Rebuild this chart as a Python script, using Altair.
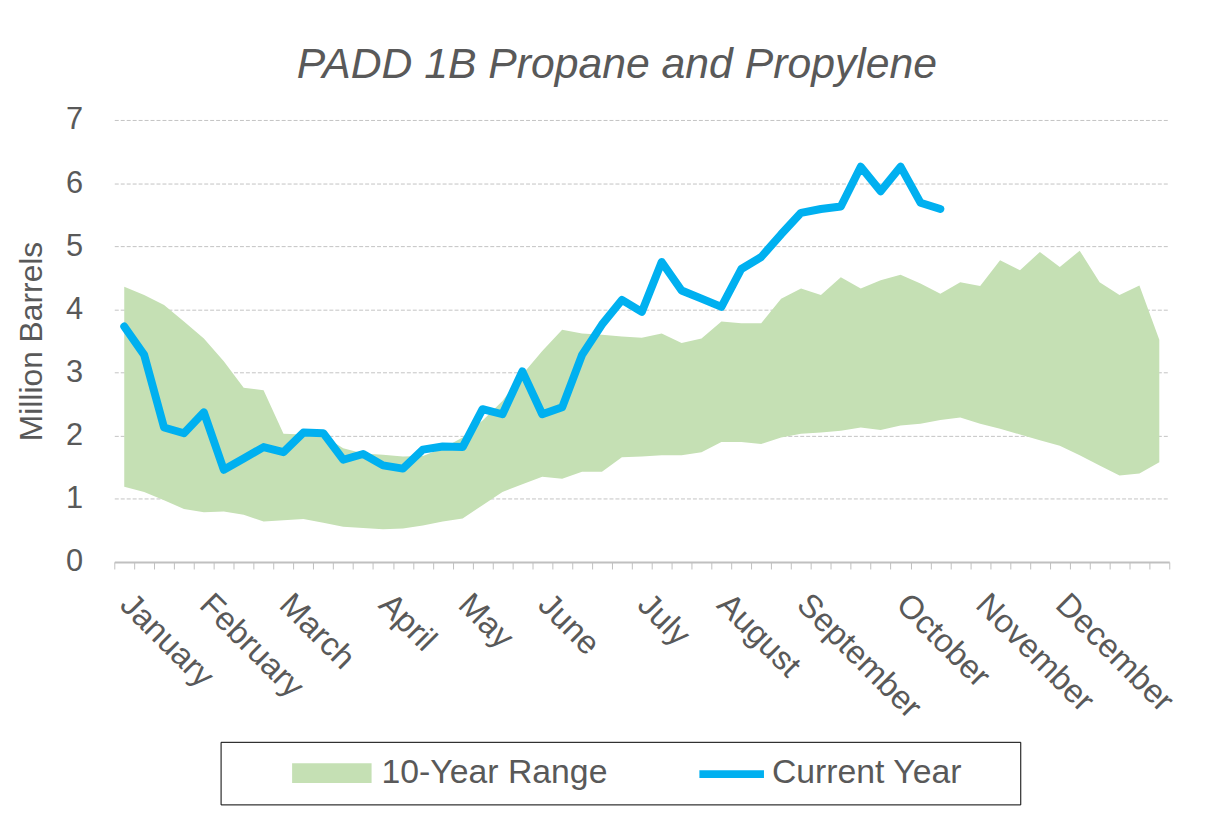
import altair as alt
import pandas as pd

# ---- data ----
weeks = list(range(53))

range_high = [4.36, 4.23, 4.07, 3.81, 3.54, 3.18, 2.76, 2.72, 2.03, 2.02,
              2.00, 1.80, 1.72, 1.70, 1.67, 1.68, 1.80, 1.97, 2.24, 2.55,
              2.97, 3.34, 3.68, 3.62, 3.60, 3.57, 3.55, 3.62, 3.47, 3.54,
              3.81, 3.78, 3.78, 4.17, 4.33, 4.23, 4.51, 4.33, 4.46, 4.55,
              4.41, 4.25, 4.43, 4.37, 4.78, 4.62, 4.91, 4.67, 4.93, 4.43,
              4.23, 4.38, 3.52]

range_low = [1.19, 1.11, 0.98, 0.84, 0.79, 0.80, 0.75, 0.64, 0.66, 0.68,
             0.62, 0.56, 0.54, 0.52, 0.53, 0.58, 0.64, 0.69, 0.90, 1.11,
             1.23, 1.35, 1.32, 1.43, 1.43, 1.66, 1.67, 1.69, 1.69, 1.74,
             1.90, 1.90, 1.87, 1.97, 2.03, 2.05, 2.08, 2.13, 2.09, 2.16,
             2.19, 2.25, 2.29, 2.19, 2.11, 2.02, 1.93, 1.84, 1.69, 1.53,
             1.37, 1.40, 1.58]

current_year = [3.73, 3.28, 2.13, 2.04, 2.37, 1.46, 1.64, 1.82, 1.74, 2.05,
                2.04, 1.62, 1.71, 1.53, 1.48, 1.78, 1.83, 1.82, 2.42, 2.34,
                3.02, 2.34, 2.45, 3.28, 3.76, 4.15, 3.96, 4.75, 4.30, 4.17,
                4.04, 4.64, 4.83, 5.19, 5.53, 5.59, 5.63, 6.26, 5.87, 6.26,
                5.69, 5.59]

month_names = ["January", "February", "March", "April", "May", "June",
               "July", "August", "September", "October", "November", "December"]
month_start_weeks = [0, 4, 8, 13, 17, 21, 26, 30, 34, 39, 43, 47]

y_ticks = [0, 1, 2, 3, 4, 5, 6, 7]

series_names = ["10-Year Range", "Current Year"]

band_df = pd.DataFrame({"week": weeks, "low": range_low, "high": range_high,
                        "series": series_names[0]})
line_df = pd.DataFrame({"week": weeks[:len(current_year)], "value": current_year,
                        "series": series_names[1]})

FONT = "Liberation Sans"
GRAY = "#595959"
GREEN = "#c5e0b4"
BLUE = "#00b0f0"

x_scale = alt.Scale(domain=[-0.5, 52.5], nice=False, zero=False)
y_scale = alt.Scale(domain=[0, 7], nice=False)

tick_axis = alt.Axis(values=[w - 0.5 for w in weeks + [53]], labels=False,
                     ticks=True, tickSize=7, tickColor="#c0c0c0", tickWidth=1,
                     domainColor="#c0c0c0", domainWidth=2, grid=False,
                     title=None, orient="bottom")

label_expr = ("[" + ",".join("'%s'" % m for m in month_names) + "][indexof(["
              + ",".join(str(w) for w in month_start_weeks) + "], datum.value)]")

label_axis = alt.Axis(values=month_start_weeks, labelExpr=label_expr,
                      labelAngle=45, labelAlign="left", labelBaseline="top",
                      labelFontSize=33, labelColor=GRAY, labelFont=FONT,
                      labelOverlap=False, labelFlush=False, labelBound=False,
                      labelOffset=12, ticks=False, tickSize=0, domain=False,
                      grid=False, title=None, orient="bottom", labelPadding=26)

y_axis = alt.Axis(values=y_ticks, grid=True, gridDash=[4, 2], gridColor="#c4c4c4",
                  gridWidth=1, domain=False, ticks=False, labelFontSize=31,
                  labelColor=GRAY, labelFont=FONT, labelPadding=32,
                  title="Million Barrels", titleFontSize=32, titleFont=FONT,
                  titleFontWeight="normal", titleColor=GRAY, titlePadding=17)

# legend with the box and both labels (second symbol left blank)
legend_box = alt.Legend(
    orient="none", legendX=107, legendY=626, direction="horizontal",
    title=" ", titleOrient="right", titleFontSize=10, titlePadding=44,
    symbolType="M-1,-0.25H1V0.25H-1Z", symbolSize=6400, symbolStrokeWidth=0,
    symbolOpacity=1, symbolOffset=58, labelOffset=10, clipHeight=35,
    labelFontSize=34, labelColor=GRAY, labelFont=FONT, labelLimit=400,
    columnPadding=17, padding=14, strokeColor="black",
)
# legend that only draws the blue line swatch over the blank second symbol
legend_line = alt.Legend(
    orient="none", legendX=571, legendY=627, direction="horizontal", title=None,
    symbolType="stroke", symbolSize=4225, symbolStrokeWidth=8, symbolOpacity=1,
    clipHeight=35, padding=14, labelOpacity=0, labelFontSize=2,
)

area = alt.Chart(band_df).mark_area(opacity=1).encode(
    x=alt.X("week:Q", scale=x_scale, axis=tick_axis),
    y=alt.Y("low:Q", scale=y_scale, axis=y_axis),
    y2="high:Q",
    fill=alt.Fill("series:N",
                  scale=alt.Scale(domain=series_names, range=[GREEN, "transparent"]),
                  legend=legend_box),
)

line = alt.Chart(line_df).mark_line(strokeWidth=8, strokeJoin="round",
                                    strokeCap="round").encode(
    x=alt.X("week:Q", scale=x_scale, axis=label_axis),
    y=alt.Y("value:Q", scale=y_scale, axis=y_axis),
    stroke=alt.Stroke("series:N",
                      scale=alt.Scale(domain=series_names[1:], range=[BLUE]),
                      legend=legend_line),
)

chart = alt.layer(area, line).resolve_axis(x="independent").properties(
    width=1062, height=445,
    title=alt.TitleParams("PADD 1B Propane and Propylene", fontSize=43,
                          fontStyle="italic", font=FONT, color=GRAY,
                          fontWeight="normal", anchor="middle", dx=-25,
                          baseline="alphabetic", offset=30, dy=47),
    autosize=alt.AutoSizeParams(type="none"),
    padding={"left": 107, "top": 110, "right": 40, "bottom": 260},
).configure_view(stroke=None)

chart.save("out.html", embed_options={"renderer": "svg", "actions": False})
